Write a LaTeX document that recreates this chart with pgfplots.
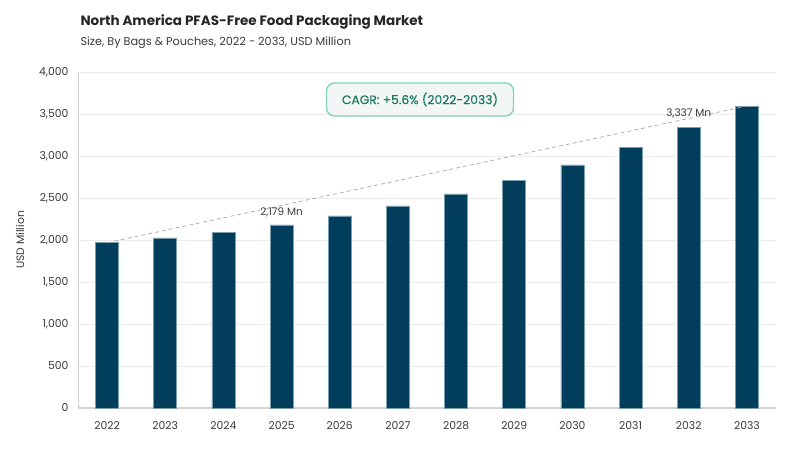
\documentclass[border=0pt]{standalone}
\usepackage{pgfplots}
\pgfplotsset{compat=1.18}
\usepackage{fontspec}
\setmainfont{Poppins}
\newfontfamily\medfont{Poppins}[FakeBold=0.35]
\definecolor{barblue}{HTML}{003E5C}
\definecolor{baredge}{HTML}{7B9DB0}
\definecolor{gridgray}{HTML}{EBEBEB}
\definecolor{axisgray}{HTML}{D0D0D0}
\definecolor{txtgray}{HTML}{3A3A3A}
\definecolor{cagrgreen}{HTML}{1B7A5C}
\definecolor{cagredge}{HTML}{80D4B8}
\definecolor{cagrfill}{HTML}{F2F6F6}
\begin{document}
\begin{tikzpicture}
\path[use as bounding box] (0pt,0pt) rectangle (800pt,450pt);
% titles
\node[anchor=base west, font=\fontsize{13.5}{16}\selectfont\bfseries, text=black!85] at (77pt,424pt) {North America PFAS-Free Food Packaging Market};
\node[anchor=base west, font=\fontsize{11.3}{13}\selectfont, text=txtgray] at (77pt,404pt) {Size, By Bags \& Pouches, 2022 - 2033, USD Million};
\begin{axis}[
    at={(78pt,42pt)}, anchor=south west,
    scale only axis, width=698pt, height=336pt,
    xmin=-0.5, xmax=11.5, ymin=0, ymax=4000,
    xtick={0,...,11},
    xticklabels={2022,2023,2024,2025,2026,2027,2028,2029,2030,2031,2032,2033},
    ytick={0,500,...,4000},
    ymajorgrids, grid style={gridgray, line width=0.8pt},
    axis x line*=bottom, axis y line*=left,
    x axis line style={draw=gridgray!90!black, line width=1.6pt, -},
    y axis line style={draw=axisgray, line width=0.8pt, -},
    major tick length=0pt,
    ticklabel style={font=\fontsize{10.8}{12}\selectfont, text=txtgray},
    yticklabel style={xshift=-6pt},
    xticklabel style={yshift=-10pt},
    /pgf/number format/1000 sep={,},
    /pgf/number format/assume math mode=true,
    ylabel={USD Million},
    ylabel style={font=\fontsize{10.8}{12}\selectfont, text=txtgray, yshift=8pt},
    clip=false,
  ]
  \addplot[ybar, bar width=23pt, fill=barblue, draw=baredge, line width=0.6pt]
    coordinates {(0,1968) (1,2024) (2,2092) (3,2179) (4,2286) (5,2405)
                 (6,2548) (7,2710) (8,2893) (9,3107) (10,3337) (11,3595)};
  \addplot[gray!70, dash pattern=on 4pt off 3pt, line width=0.7pt]
    coordinates {(0,1968) (11,3595)};
  \node[font=\fontsize{10.5}{12}\selectfont, text=txtgray, yshift=13pt] at (axis cs:3,2179) {2,179 Mn};
  \node[font=\fontsize{10.5}{12}\selectfont, text=txtgray, yshift=14pt] at (axis cs:10,3337) {3,337 Mn};
\end{axis}
% CAGR box
\node[draw=cagredge, line width=1.3pt, fill=cagrfill, rounded corners=8pt,
      minimum width=187pt, minimum height=33pt, text=cagrgreen,
      font=\medfont\fontsize{12.3}{14}\selectfont] at (420pt,350.5pt) {CAGR: +5.6\% (2022-2033)};
\end{tikzpicture}
\end{document}
